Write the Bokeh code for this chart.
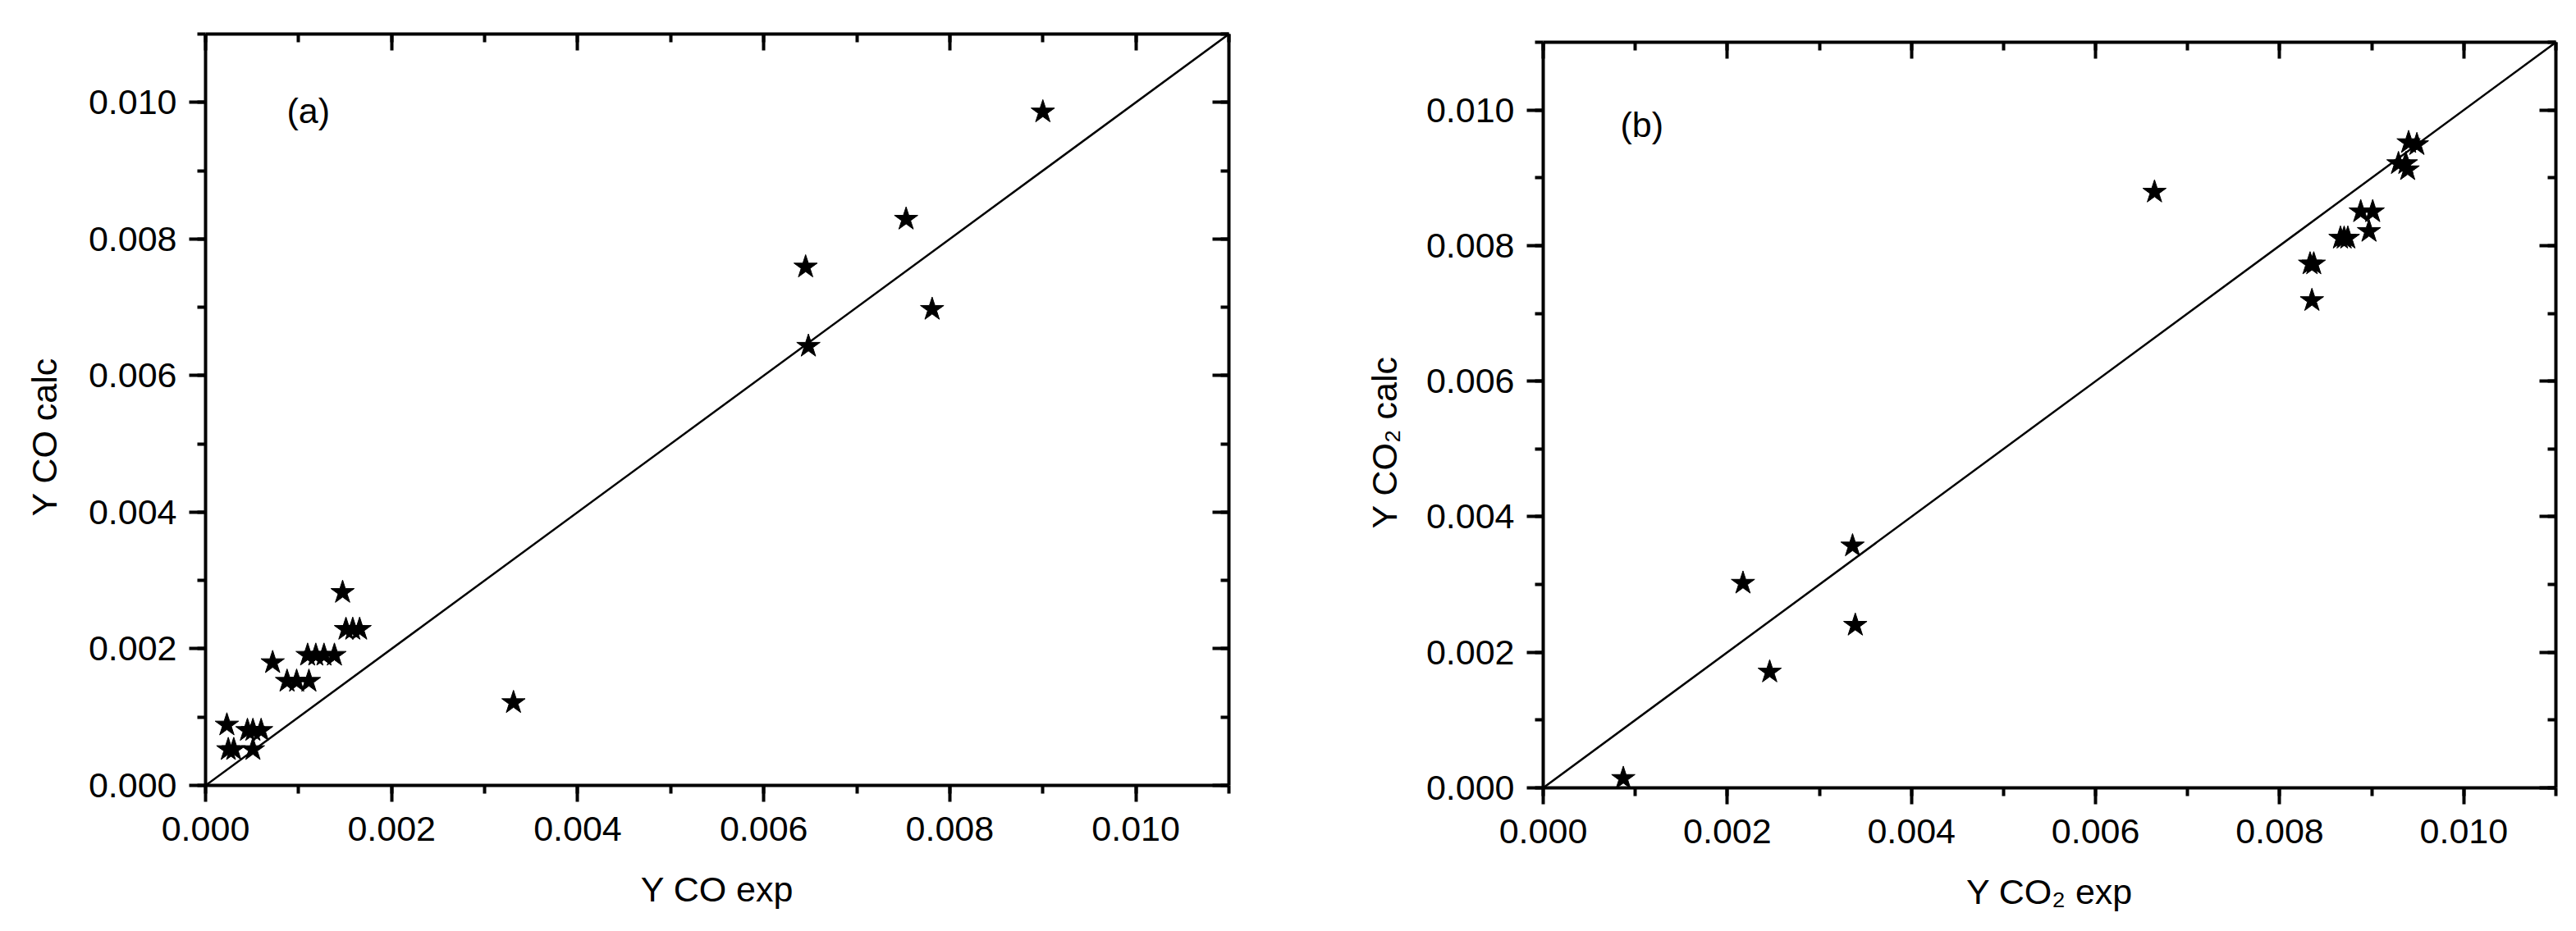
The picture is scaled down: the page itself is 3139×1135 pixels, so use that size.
from bokeh.plotting import figure
from bokeh.models import (Range1d, LinearAxis, SingleIntervalTicker, Spacer, Title,
                          PrintfTickFormatter, CustomJSTickFormatter, Label)
from bokeh.layouts import row, column
from bokeh.embed import file_html
from bokeh.resources import INLINE

# ---------------- data ----------------
co_exp = [0.000229, 0.000244, 0.000303, 0.000509, 0.000450, 0.000509, 0.000597,
          0.000721, 0.000876, 0.000979, 0.001111, 0.001097, 0.001185, 0.001273,
          0.001385, 0.001473, 0.001509, 0.001582, 0.001656, 0.003310, 0.006450,
          0.006480, 0.007530, 0.007810, 0.009000]
co_calc = [0.000885, 0.000525, 0.000525, 0.000525, 0.000805, 0.000805, 0.000805,
           0.001798, 0.001525, 0.001525, 0.001525, 0.001906, 0.001906, 0.001906,
           0.001906, 0.002826, 0.002285, 0.002285, 0.002285, 0.001213, 0.007590,
           0.006430, 0.008290, 0.006970, 0.009860]

co2_exp = [0.00087, 0.00217, 0.00246, 0.00336, 0.00339, 0.00664, 0.00833, 0.00837,
           0.00835, 0.00866, 0.00870, 0.00874, 0.00888, 0.00901, 0.00897, 0.00929,
           0.00937, 0.00939, 0.00940, 0.00949]
co2_calc = [0.00014, 0.00302, 0.00171, 0.00357, 0.00240, 0.00879, 0.00773, 0.00773,
            0.00719, 0.00811, 0.00811, 0.00811, 0.00850, 0.00850, 0.00821, 0.00921,
            0.00921, 0.00912, 0.00952, 0.00949]

parity = [0.0, 0.011]
axis_min, axis_max = 0.0, 0.011
tick_interval = 0.002

FONT = "Liberation Sans"
FS = "43px"


def style_axis(ax, inward, labels):
    ax.ticker = SingleIntervalTicker(interval=tick_interval, num_minor_ticks=2)
    ax.axis_line_width = 4
    ax.axis_line_color = "black"
    ax.major_tick_line_width = 4
    ax.minor_tick_line_width = 4
    ax.major_tick_line_color = "black"
    ax.minor_tick_line_color = "black"
    if inward:
        ax.major_tick_in, ax.major_tick_out = 20, 0
        ax.minor_tick_in, ax.minor_tick_out = 10, 0
    else:
        ax.major_tick_in, ax.major_tick_out = 0, 20
        ax.minor_tick_in, ax.minor_tick_out = 0, 10
    if labels:
        ax.formatter = PrintfTickFormatter(format="%.3f")
        ax.major_label_text_font = FONT
        ax.major_label_text_font_size = FS
        ax.major_label_text_color = "black"
        ax.axis_label_text_font = FONT
        ax.axis_label_text_font_size = FS
        ax.axis_label_text_font_style = "normal"
        ax.axis_label_text_color = "black"
    else:
        ax.formatter = CustomJSTickFormatter(code="return ''")
        ax.major_label_text_font_size = "0px"
        ax.major_label_standoff = 0


def panel(xs, ys, xlabel, ylabel, tag, tag_x, tag_y, title_standoff, title_offset,
          bl, br, bt, bb, fw, fh):
    p = figure(frame_width=fw, frame_height=fh,
               x_range=Range1d(axis_min, axis_max), y_range=Range1d(axis_min, axis_max),
               output_backend="svg", toolbar_location=None,
               min_border_left=bl, min_border_right=br,
               min_border_top=bt, min_border_bottom=bb,
               background_fill_color="white", border_fill_color="white")
    p.xgrid.visible = False
    p.ygrid.visible = False
    p.outline_line_color = None

    p.line(parity, parity, line_color="black", line_width=2.5)
    p.scatter(xs, ys, marker="star", size=30, fill_color="black", line_color="black")

    xa = p.xaxis[0]
    ya = p.yaxis[0]
    style_axis(xa, False, True)
    style_axis(ya, False, True)
    xa.axis_label = xlabel
    xa.major_label_standoff = 18
    ya.major_label_standoff = 15
    xa.axis_label_standoff = 32

    top = LinearAxis()
    style_axis(top, True, False)
    p.add_layout(top, "above")
    right = LinearAxis()
    style_axis(right, True, False)
    p.add_layout(right, "right")

    p.add_layout(Title(text=ylabel, align="left", offset=title_offset,
                       standoff=title_standoff,
                       text_font=FONT, text_font_size=FS, text_font_style="normal",
                       text_color="black"), "left")
    p.add_layout(Label(x=tag_x, y=tag_y, text=tag, text_font=FONT,
                       text_font_size=FS, text_color="black",
                       text_baseline="middle", text_align="left"))
    return p


pa = panel(co_exp, co_calc, "Y CO exp", "Y CO calc", "(a)", 0.000873, 0.00988, 54, 328,
           bl=249, br=71, bt=41, bb=150, fw=1247, fh=916)
pb = panel(co2_exp, co2_calc, "Y CO\u2082 exp", "Y CO\u2082 calc", "(b)", 0.000838, 0.00978, 48, 316,
           bl=312, br=18, bt=41, bb=150, fw=1234, fh=909)

layout = row(pa, column(Spacer(height=10), pb))
open("out.html", "w").write(file_html(layout, INLINE))
